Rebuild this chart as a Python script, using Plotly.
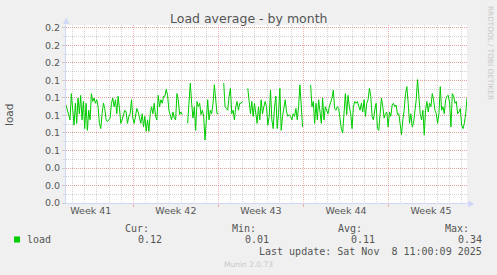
import pandas as pd
import plotly.graph_objects as go

# ---------------- data ----------------
range_start = "2025-10-06 11:00:09"
range_end = "2025-11-08 11:00:09"

load = [
    0.112, 0.106, 0.099, 0.095, 0.125, 0.108, 0.089, 0.114, 0.091, 0.120,
    0.102, 0.123, 0.095, 0.116, 0.085, 0.114, 0.083, 0.106, 0.095, 0.125,
    0.116, 0.120, 0.114, 0.118, 0.110, 0.091, 0.085, 0.102, 0.114, 0.108,
    0.095, 0.093, 0.095, 0.097, 0.114, 0.120, 0.110, 0.118, 0.102, 0.122,
    0.108, 0.091, 0.095, 0.101, 0.106, 0.104, 0.091, 0.099, 0.102, 0.118,
    0.097, 0.091, 0.101, 0.108, 0.104, 0.097, 0.091, 0.102, 0.087, 0.099,
    0.082, 0.095, 0.082, 0.102, 0.110, 0.102, 0.114, 0.099, 0.095, 0.123,
    0.110, 0.118, 0.114, 0.122,
    0.122, 0.130, 0.123, 0.106, 0.099, 0.095, 0.104, 0.097, 0.095, 0.125,
    0.118, 0.101, 0.104, 0.101,
    None, None, None,
    0.091, 0.116, 0.137, 0.114, 0.097, 0.110, 0.083, 0.116, 0.110, 0.114,
    0.101, 0.106, 0.099, 0.072, 0.102, 0.118, 0.095, 0.106, 0.102, 0.114,
    0.135, 0.116, 0.102, 0.102,
    None, None, None,
    0.137, 0.110, 0.108, 0.106, 0.122, 0.131, 0.102, 0.106, 0.095, 0.110,
    0.116, 0.106, 0.114, 0.114, 0.116,
    None, None, None,
    0.131, 0.114, 0.102, 0.116, 0.099, 0.114, 0.099, 0.091, 0.110, 0.095,
    0.118, 0.102, 0.110,
    0.116, 0.110, 0.089, 0.099, 0.129, 0.095, 0.085, 0.110, 0.122, 0.085,
    0.102, 0.131, 0.083, 0.099, 0.110, 0.118, 0.104, 0.099, 0.101, 0.099,
    0.095, 0.102, 0.099, 0.108, 0.095, 0.110, 0.135, 0.102, 0.087,
    None, None, None, None, None,
    0.135, 0.110, 0.116, 0.091, 0.114, 0.095, 0.118, 0.102, 0.091, 0.120,
    0.095, 0.110, 0.106, 0.102, 0.110, 0.114, 0.120, 0.129, 0.108, 0.106,
    0.110, 0.108, 0.095, 0.085, 0.080, 0.110, 0.125, 0.101, 0.123, 0.110,
    0.102, 0.085, 0.110, 0.116, 0.114, 0.116, 0.110, 0.106, 0.114, 0.104,
    0.118,
    0.099, 0.114, 0.118, 0.131, 0.122, 0.099, 0.095, 0.106, 0.114, 0.085,
    0.083, 0.102, 0.120, 0.110, 0.097, 0.102, 0.104, 0.087, 0.104, 0.099,
    0.112, 0.114, 0.110, 0.112, 0.101, 0.102, 0.087, 0.078, 0.095, 0.106,
    0.125, 0.133, 0.114, 0.091, 0.102, 0.087, 0.091, 0.102, 0.118, 0.141,
    0.122, 0.102, 0.095, 0.106, 0.078, 0.106, 0.116, 0.104, 0.114, 0.110,
    0.125, 0.118, 0.106, 0.102, 0.091, 0.102, 0.133, 0.106, 0.110, 0.102,
    0.118, 0.122, 0.123, 0.114, 0.087, 0.125, 0.122, 0.114, 0.116, 0.102,
    0.104, 0.108, 0.089, 0.085, 0.091, 0.102, 0.120,
]

week_labels = ["Week 41", "Week 42", "Week 43", "Week 44", "Week 45"]
week_label_times = ["2025-10-08 12:00", "2025-10-15 12:00", "2025-10-22 12:00",
                    "2025-10-29 12:00", "2025-11-05 12:00"]
week_starts = ["2025-10-12", "2025-10-19", "2025-10-26", "2025-11-02"]

y_tickvals = [0.00, 0.02, 0.04, 0.06, 0.08, 0.10, 0.12, 0.14, 0.16, 0.18, 0.20]
y_ticktext = ["0.0", "0.0", "0.0", "0.1", "0.1", "0.1", "0.1", "0.1", "0.2", "0.2", "0.2"]

legend_name = "load"
stat_names = ["Cur:", "Min:", "Avg:", "Max:"]
stat_values = ["0.12", "0.01", "0.11", "0.34"]
last_update = "Last update: Sat Nov  8 11:00:09 2025"
title = "Load average - by month"
y_title = "load"
footer = "Munin 2.0.73"
side_text = "RRDTOOL / TOBI OETIKER"

# ---------------- layout geometry ----------------
W, H = 497, 275
L, R, T, B = 66, 30, 25, 72
PW, PH = W - L - R, H - T - B


def px(x):
    return (x - L) / PW


def py(y):
    return (H - B - y) / PH


times = pd.date_range(range_start, range_end, periods=len(load))
days = [d for d in pd.date_range("2025-10-07", "2025-11-08", freq="D")
        if d.dayofweek != 6]
fmt = "%Y-%m-%d %H:%M:%S"

GREEN = "#00cc00"
TXT = "#555555"
AXIS = "#CFD6F8"
MGRID = "rgba(235,130,130,0.6)"
GRID = "rgba(160,160,160,0.45)"
DASH = "1px,1px"

fig = go.Figure()
# invisible base trace (carries the main x axis)
fig.add_trace(go.Scatter(x=times, y=load, mode="lines", line=dict(width=0, color="rgba(0,0,0,0)"),
                         hoverinfo="skip", showlegend=False, xaxis="x", yaxis="y"))
# visible line on overlay axis (drawn above all grids)
fig.add_trace(go.Scatter(x=times, y=load, mode="lines", line=dict(width=1, color=GREEN),
                         connectgaps=False, showlegend=False, xaxis="x2", yaxis="y"))

xr = [range_start, range_end]
fig.update_layout(
    width=W, height=H,
    margin=dict(l=L, r=R, t=T, b=B, pad=0),
    paper_bgcolor="#f0f0f0",
    plot_bgcolor="#ffffff",
    showlegend=False,
    font=dict(family="DejaVu Sans", color=TXT, size=10),
    xaxis=dict(
        type="date", range=xr, fixedrange=True,
        tickmode="array", tickvals=[pd.Timestamp(s).strftime(fmt) for s in week_starts],
        showticklabels=False,
        showgrid=True, gridcolor=MGRID, griddash=DASH, gridwidth=1,
        ticks="outside", ticklen=3, tickcolor=MGRID,
        minor=dict(tickmode="array", tickvals=[d.strftime(fmt) for d in days],
                   showgrid=True, gridcolor=GRID, griddash=DASH, gridwidth=1, ticks=""),
        showline=True, linecolor=AXIS, linewidth=1, zeroline=False,
    ),
    xaxis2=dict(
        type="date", range=xr, overlaying="x", anchor="y", side="bottom", fixedrange=True,
        tickmode="array", tickvals=week_label_times, ticktext=week_labels,
        showgrid=False, ticks="", zeroline=False, showline=False,
        tickfont=dict(family="DejaVu Sans", size=9.5, color=TXT),
    ),
    yaxis=dict(
        range=[0, 0.2034], fixedrange=True,
        tickmode="array", tickvals=y_tickvals, ticktext=y_ticktext,
        tickfont=dict(family="DejaVu Sans", size=9.5, color=TXT),
        showgrid=True, gridcolor=MGRID, griddash=DASH, gridwidth=1,
        ticks="outside", ticklen=3, tickcolor="#c8c8c8",
        minor=dict(dtick=0.01, tick0=0, showgrid=True, gridcolor=GRID, griddash=DASH,
                   gridwidth=1, ticks="outside", ticklen=2, tickcolor="#d8d8d8"),
        showline=True, linecolor=AXIS, linewidth=1, zeroline=False,
    ),
)

ann = []


def add_text(text, x, y, xanchor="center", yanchor="middle", size=10, family="DejaVu Sans",
             color=TXT, angle=0):
    ann.append(dict(text=text, x=px(x), y=py(y), xref="paper", yref="paper",
                    xanchor=xanchor, yanchor=yanchor, showarrow=False, borderpad=0,
                    textangle=angle, font=dict(family=family, size=size, color=color)))


add_text(title, 248.5, 19, size=12.5)
add_text(y_title, 9, 115, size=10.5, angle=-90)
add_text(side_text, 490, 5, yanchor="top", size=7.3, color="#c8c8c8", angle=90)
add_text(footer, 248, 264.5, size=7.5, color="#c8c8c8")

MONO = "DejaVu Sans Mono"
add_text(legend_name, 26, 239.5, xanchor="left", family=MONO)
stat_name_right = [150, 257, 363, 470]
stat_val_right = [163, 270, 376, 483]
for name, val, xn, xv in zip(stat_names, stat_values, stat_name_right, stat_val_right):
    add_text(name, xn, 228, xanchor="right", family=MONO)
    add_text(val, xv, 239.5, xanchor="right", family=MONO)
add_text(last_update, 483, 251, xanchor="right", family=MONO)

# axis arrows
add_text("▲", 66, 20, size=8, color=AXIS)
add_text("▶", 471, 203, size=8, color=AXIS)

fig.update_layout(annotations=ann)
fig.add_shape(type="rect", xref="paper", yref="paper",
              x0=px(14), x1=px(20), y0=py(242.5), y1=py(236.5),
              fillcolor=GREEN, line=dict(width=0))

fig.write_html("out.html", config={"displayModeBar": False})
